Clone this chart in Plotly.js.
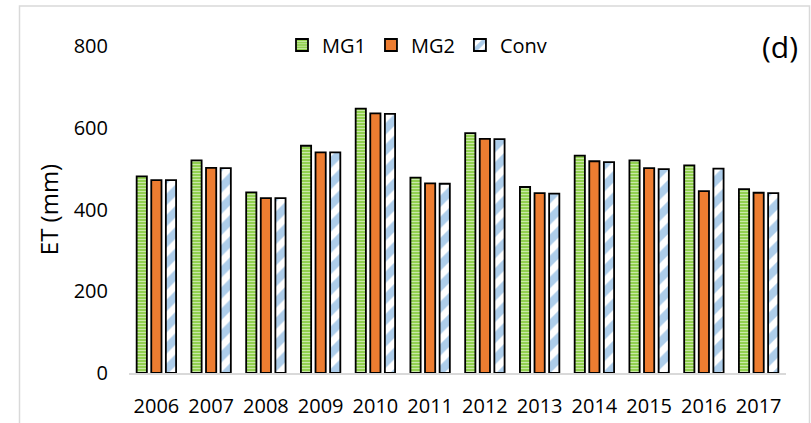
<!DOCTYPE html>
<html>
<head>
<meta charset="utf-8">
<script src="https://cdn.plot.ly/plotly-3.0.1.min.js"></script>
<style>html,body{margin:0;padding:0;background:#fff;}#chart{width:811px;height:423px;}</style>
</head>
<body>
<div id="chart"></div>
<script>
const years = ['2006','2007','2008','2009','2010','2011','2012','2013','2014','2015','2016','2017'];
const mg1  = [481, 520, 442, 556, 647, 478, 587, 455, 532, 520, 508, 450];
const mg2  = [472, 502, 428, 540, 635, 464, 573, 440, 518, 501, 445, 441];
const conv = [472, 501, 428, 540, 634, 463, 572, 439, 516, 499, 500, 440];
const yTicks = [0, 200, 400, 600, 800];

const FONT = '"Open Sans", "Noto Sans", sans-serif';
const outline = {color: '#000', width: 1.8};

const traces = [
  {type: 'bar', name: 'MG1', x: years, y: mg1,
   marker: {color: '#92d050', line: outline,
            pattern: {shape: '-', fgcolor: '#ffffff', bgcolor: '#92d050', size: 3, solidity: 0.35, fillmode: 'overlay'}}},
  {type: 'bar', name: 'MG2', x: years, y: mg2,
   marker: {color: '#ed7d31', line: outline}},
  {type: 'bar', name: 'Conv', x: years, y: conv,
   marker: {color: '#ffffff', line: outline,
            pattern: {shape: '/', fgcolor: '#5b9bd5', bgcolor: '#ffffff', size: 15, solidity: 0.55, fillmode: 'overlay'}}}
];

const L = 129, R = 786, T = 46, B = 373, W = 811, H = 423;
const px = v => (v - L) / (R - L);
const py = v => (B - v) / (B - T);

const layout = {
  width: W, height: H,
  margin: {l: L, r: W - R, t: T, b: H - B, pad: 0},
  paper_bgcolor: '#ffffff', plot_bgcolor: '#ffffff',
  font: {family: FONT, size: 20, color: '#000'},
  barmode: 'group', bargap: 0.2, bargroupgap: 0.3,
  showlegend: true,
  legend: {orientation: 'h', x: px(282), xanchor: 'left', y: py(45), yanchor: 'middle',
           font: {family: FONT, size: 20, color: '#000'}, bgcolor: 'rgba(0,0,0,0)', traceorder: 'normal'},
  xaxis: {type: 'category', showgrid: false, zeroline: false, showline: true,
          linecolor: '#d9d9d9', linewidth: 2, ticks: '', ticklabelstandoff: 14,
          tickfont: {family: FONT, size: 20, color: '#000'}, fixedrange: true},
  yaxis: {range: [0, 800], tickvals: yTicks, ticktext: yTicks.map(String),
          showgrid: false, zeroline: false, showline: false, ticks: '',
          ticklabelstandoff: 20,
          tickfont: {family: FONT, size: 20, color: '#000'},
          title: {text: 'ET (mm)', font: {family: FONT, size: 24, color: '#000'}, standoff: 8},
          fixedrange: true},
  shapes: [{type: 'rect', xref: 'paper', yref: 'paper',
            x0: px(19.5), x1: px(809.5), y0: py(430), y1: py(6),
            line: {color: '#d9d9d9', width: 1.5}, fillcolor: 'rgba(0,0,0,0)', layer: 'below'}],
  annotations: [{text: '(d)', xref: 'paper', yref: 'paper', x: px(800), y: py(46),
                 xanchor: 'right', yanchor: 'middle', showarrow: false,
                 font: {family: FONT, size: 30, color: '#000'}}]
};

Plotly.newPlot('chart', traces, layout, {displayModeBar: false, staticPlot: true});
</script>
</body>
</html>
